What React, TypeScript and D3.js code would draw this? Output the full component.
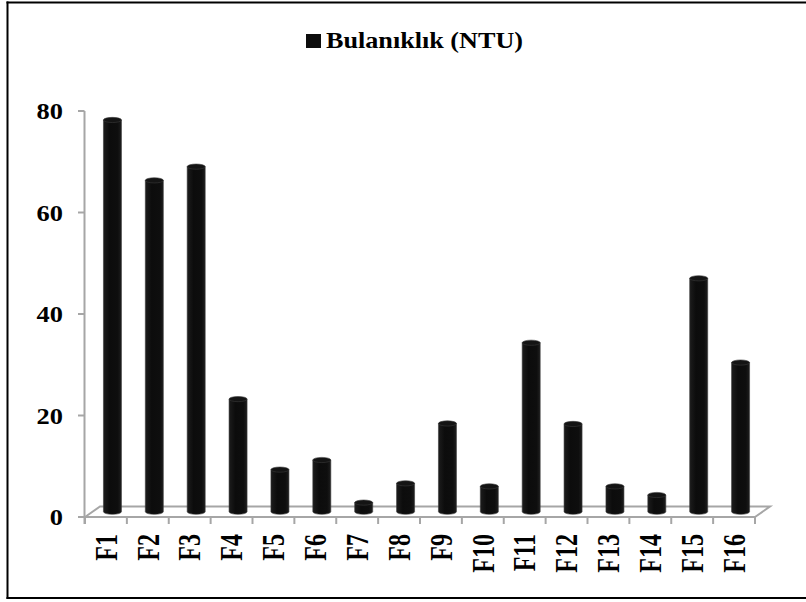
import React from "react";
import * as d3 from "d3";

// Turbidity per sample point
const categories = ["F1","F2","F3","F4","F5","F6","F7","F8","F9","F10","F11","F12","F13","F14","F15","F16"];
const turbidity = [77.2, 65.3, 68.0, 22.2, 8.3, 10.2, 1.8, 5.6, 17.4, 5.0, 33.3, 17.3, 5.0, 3.3, 46.0, 29.4];
const yTicks = [0, 20, 40, 60, 80];
const seriesName = "Bulanıklık (NTU)";

const W = 806;
const H = 602;
const FONT = "'Liberation Serif', 'Times New Roman', serif";

// floor depth offset of the pseudo-3D plot
const DEPTH_X = 15;
const DEPTH_Y = 10.5;

export default function App() {
  const x = d3.scaleBand<string>().domain(categories).range([85, 755]).padding(0);
  const y = d3.scaleLinear().domain([0, 80]).range([517, 111]);

  const x0 = 85;
  const x1 = 755;
  const y0 = y(0);
  const barW = 18;
  const ry = 2.6;

  const tickXs = d3.range(categories.length + 1).map((i) => x0 + i * x.bandwidth());

  return (
    <svg
      width={W}
      height={H}
      style={{ position: "absolute", left: 0, top: 0, background: "#fff" }}
    >
      <defs>
        <linearGradient id="cyl" x1="0" x2="1" y1="0" y2="0">
          <stop offset="0" stopColor="#1c1c1c" />
          <stop offset="0.35" stopColor="#0c0c0c" />
          <stop offset="0.8" stopColor="#0e0e0e" />
          <stop offset="1" stopColor="#1e1e1e" />
        </linearGradient>
      </defs>

      {/* outer frame */}
      <line x1={7.5} x2={7.5} y1={1.5} y2={599} stroke="#000" strokeWidth={2} />
      <line x1={6.5} x2={W} y1={2.5} y2={2.5} stroke="#000" strokeWidth={2} />
      <line x1={6.5} x2={W} y1={598} y2={598} stroke="#000" strokeWidth={2} />

      {/* legend */}
      <rect x={306} y={34} width={15} height={14} fill="#0d0d0d" />
      <text
        x={326}
        y={47.5}
        fontFamily={FONT}
        fontWeight="bold"
        fontSize={23}
        textLength={197}
        lengthAdjust="spacingAndGlyphs"
        fill="#000"
      >
        {seriesName}
      </text>

      {/* floor */}
      <path
        d={`M${x0},${y0} L${x0 + DEPTH_X},${y0 - DEPTH_Y} L${x1 + DEPTH_X},${y0 - DEPTH_Y} L${x1},${y0}`}
        fill="none"
        stroke="#a6a6a6"
        strokeWidth={2}
      />

      {/* cylinders */}
      {categories.map((c, i) => {
        const cx = (x(c) as number) + x.bandwidth() / 2 + DEPTH_X / 2 - 1;
        const yb = y0 - DEPTH_Y / 2;
        const yt = y(turbidity[i]) - DEPTH_Y / 2;
        const l = cx - barW / 2;
        const r = cx + barW / 2;
        const body = `M${l},${yt} L${l},${yb} A${barW / 2},${ry} 0 0 0 ${r},${yb} L${r},${yt} Z`;
        return (
          <g key={c}>
            <path d={body} fill="url(#cyl)" stroke="#3a3a3a" strokeWidth={0.6} />
            <ellipse cx={cx} cy={yt} rx={barW / 2} ry={ry} fill="#141414" stroke="#3a3a3a" strokeWidth={0.6} />
          </g>
        );
      })}

      {/* front floor edge drawn over bar bottoms */}
      <line x1={x0} x2={x1} y1={y0} y2={y0} stroke="#a6a6a6" strokeWidth={2} />

      {/* value axis */}
      <line x1={84.5} x2={84.5} y1={y(80)} y2={y0 + 7} stroke="#a6a6a6" strokeWidth={2} />
      {yTicks.map((t) => (
        <g key={t}>
          <line x1={78} x2={84.5} y1={y(t)} y2={y(t)} stroke="#a6a6a6" strokeWidth={2} />
          <text
            transform={`translate(63,${y(t)}) scale(1.1,1)`}
            dy="0.35em"
            textAnchor="end"
            fontFamily={FONT}
            fontWeight="bold"
            fontSize={24}
            fill="#000"
          >
            {t}
          </text>
        </g>
      ))}

      {/* category axis */}
      {tickXs.map((tx, i) => (
        <line key={i} x1={tx} x2={tx} y1={y0} y2={y0 + 7} stroke="#a6a6a6" strokeWidth={2} />
      ))}
      {categories.map((c) => {
        const cx = (x(c) as number) + x.bandwidth() / 2;
        return (
          <text
            key={c}
            transform={`translate(${cx},534) rotate(-90) scale(1,1.28)`}
            dy="0.35em"
            textAnchor="end"
            fontFamily={FONT}
            fontWeight="bold"
            fontSize={24}
            fill="#000"
          >
            {c}
          </text>
        );
      })}
    </svg>
  );
}
